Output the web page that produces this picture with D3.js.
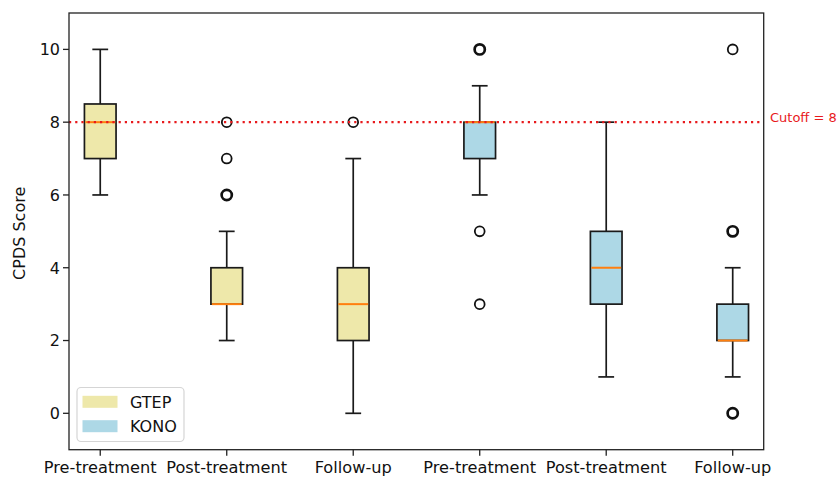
<!DOCTYPE html>
<html><head><meta charset="utf-8">
<script src="https://cdn.jsdelivr.net/npm/d3@7"></script>
<style>body{margin:0;background:#fff}svg{display:block;font-family:"DejaVu Sans",sans-serif}</style>
</head><body><svg id="c" width="837" height="478"></svg>
<script>
const categories = ["Pre-treatment","Post-treatment","Follow-up","Pre-treatment","Post-treatment","Follow-up"];
const groups = ["GTEP","GTEP","GTEP","KONO","KONO","KONO"];
const whiskerLow = [6,2,0,6,1,1];
const q1 = [7,3,2,7,3,2];
const median = [8,3,3,8,4,2];
const q3 = [8.5,4,4,8,5,3];
const whiskerHigh = [10,5,7,9,8,4];
const outliers = [[],[6,6,6,7,8],[8],[10,10,10,5,3],[],[10,5,5,5,0,0,0]];
const yTicks = [0,2,4,6,8,10];
const cutoff = 8;
const legendItems = ["GTEP","KONO"];
const colors = {GTEP:"#EEE8AA", KONO:"#ADD8E6"};

const svg = d3.select("#c");
const L = 69, R = 763.7, T = 13, B = 449.7;
const x = d3.scaleLinear().domain([0.753, 6.245]).range([L, R]);
const y = d3.scaleLinear().domain([-1, 11]).range([B, T]);
const bw = 0.25, cw = 0.125;
const ink = "#1a1a1a";

const g = svg.append("g");
categories.forEach((c, i) => {
  const p = i + 1;
  const gg = g.append("g");
  gg.append("line").attr("x1", x(p)).attr("x2", x(p)).attr("y1", y(whiskerLow[i])).attr("y2", y(q1[i])).attr("stroke",ink).attr("stroke-width",1.7);
  gg.append("line").attr("x1", x(p)).attr("x2", x(p)).attr("y1", y(q3[i])).attr("y2", y(whiskerHigh[i])).attr("stroke",ink).attr("stroke-width",1.7);
  [whiskerLow[i], whiskerHigh[i]].forEach(v => {
    gg.append("line").attr("x1", x(p - cw/2)).attr("x2", x(p + cw/2)).attr("y1", y(v)).attr("y2", y(v)).attr("stroke",ink).attr("stroke-width",1.7);
  });
  gg.append("rect").attr("x", x(p - bw/2)).attr("width", x(p + bw/2) - x(p - bw/2))
    .attr("y", y(q3[i])).attr("height", Math.max(0, y(q1[i]) - y(q3[i])))
    .attr("fill", colors[groups[i]]).attr("stroke",ink).attr("stroke-width",1.7);
  gg.append("line").attr("x1", x(p - bw/2)+0.9).attr("x2", x(p + bw/2)-0.9).attr("y1", y(median[i])).attr("y2", y(median[i])).attr("stroke","#FF7F0E").attr("stroke-width",2);
  const counts = d3.rollup(outliers[i], v => v.length, d => d);
  counts.forEach((n, v) => {
    gg.append("circle").attr("cx", x(p)).attr("cy", y(v)).attr("r", n > 1 ? 5.1 : 4.9).attr("fill","none")
      .attr("stroke","#111").attr("stroke-width", n > 1 ? 2.7 : 1.8);
  });
});

svg.append("line").attr("x1", L).attr("x2", R).attr("y1", y(cutoff)).attr("y2", y(cutoff))
  .attr("stroke","#e8191c").attr("stroke-width",2.2).attr("stroke-dasharray","2.2,4");
svg.append("text").attr("x", 770).attr("y", y(cutoff) - 0.5).attr("fill","#e8191c").attr("font-size",13).text("Cutoff = " + cutoff);

svg.append("rect").attr("x", L).attr("y", T).attr("width", R - L).attr("height", B - T).attr("fill","none").attr("stroke","#222").attr("stroke-width",1.3);

yTicks.forEach(t => {
  svg.append("line").attr("x1", L - 6).attr("x2", L).attr("y1", y(t)).attr("y2", y(t)).attr("stroke","#222").attr("stroke-width",1.3);
  svg.append("text").attr("x", L - 9).attr("y", y(t)).attr("dy","0.36em").attr("text-anchor","end").attr("font-size",16).attr("fill","#111").text(t);
});
categories.forEach((c, i) => {
  const p = i + 1;
  svg.append("line").attr("x1", x(p)).attr("x2", x(p)).attr("y1", B).attr("y2", B + 6).attr("stroke","#222").attr("stroke-width",1.3);
  svg.append("text").attr("x", x(p)).attr("y", 473).attr("text-anchor","middle").attr("font-size",16.2).attr("fill","#111").text(c);
});
svg.append("text").attr("transform",`translate(25,${(y(0)+y(10))/2 + 2}) rotate(-90)`).attr("text-anchor","middle").attr("font-size",16).attr("fill","#111").text("CPDS Score");

const lg = svg.append("g");
lg.append("rect").attr("x", 77).attr("y", 387.5).attr("width", 107).attr("height", 54).attr("rx", 4)
  .attr("fill","#fff").attr("fill-opacity",0.8).attr("stroke","#d5d5d5").attr("stroke-width",1.2);
legendItems.forEach((k, j) => {
  const cy = 401.8 + j * 24.4;
  lg.append("rect").attr("x", 82.5).attr("y", cy - 6).attr("width", 35).attr("height", 12).attr("fill", colors[k]);
  lg.append("text").attr("x", 130).attr("y", cy).attr("dy","0.36em").attr("font-size",16).attr("fill","#111").text(k);
});
</script></body></html>
